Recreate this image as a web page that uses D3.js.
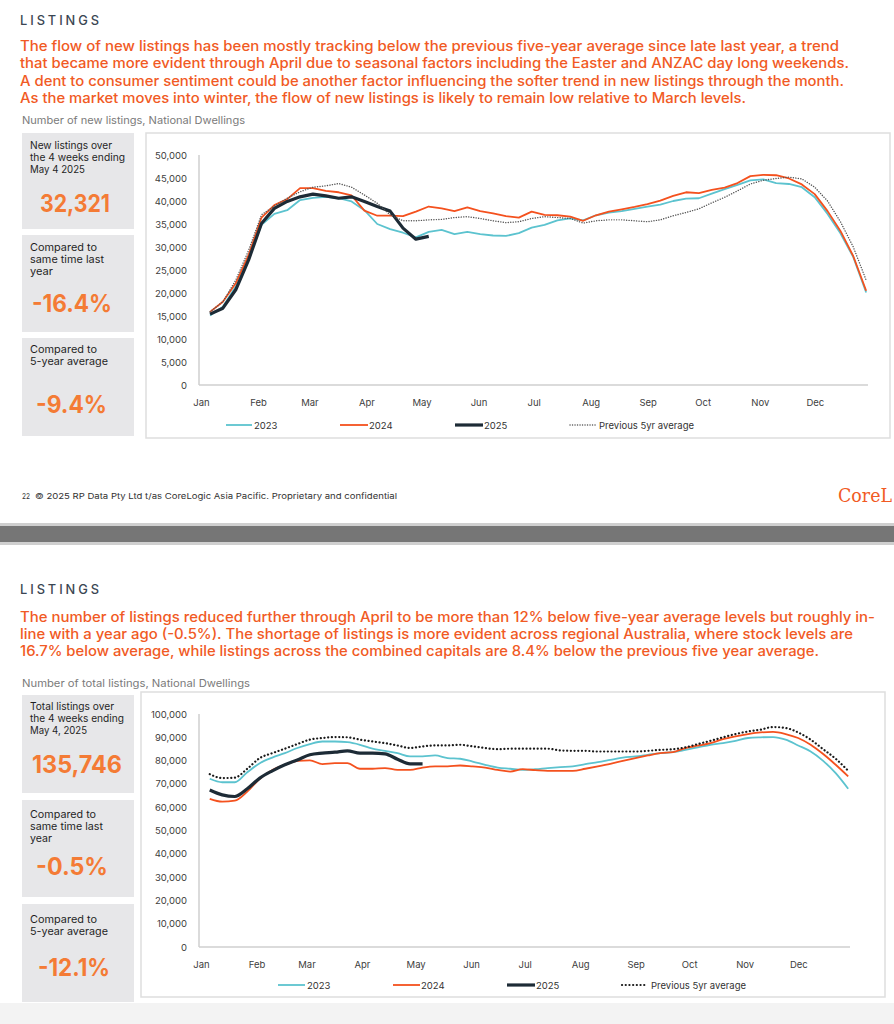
<!DOCTYPE html>
<html>
<head>
<meta charset="utf-8">
<script src="https://cdn.jsdelivr.net/npm/d3@7"></script>
<style>
  html, body { margin: 0; padding: 0; background: #fff; }
  svg { display: block; font-family: Inter, "Noto Sans", sans-serif; }
</style>
</head>
<body>
<svg id="page" width="894" height="1024"></svg>
<script>
// ---- data ----
var months = ["Jan", "Feb", "Mar", "Apr", "May", "Jun", "Jul", "Aug", "Sep", "Oct", "Nov", "Dec"];
var seriesNames = ["2023", "2024", "2025", "Previous 5yr average"];

var newTicks = [0, 5000, 10000, 15000, 20000, 25000, 30000, 35000, 40000, 45000, 50000];
var totTicks = [0, 10000, 20000, 30000, 40000, 50000, 60000, 70000, 80000, 90000, 100000];

// weekly new listings
var new2023 = [15100, 17000, 21400, 27500, 34800, 37200, 38000, 40200, 40700, 40900, 40600, 39900, 38000,
  35000, 33900, 33100, 32100, 33300, 33700, 32800, 33300, 32800, 32500, 32400, 33000, 34200, 34800,
  35800, 36200, 35800, 36900, 37500, 37800, 38300, 38800, 39200, 40000, 40500, 40600, 41600, 42600,
  43500, 44500, 44700, 43900, 43700, 43000, 40800, 37200, 33000, 27800, 20100];
var new2024 = [15900, 18100, 22100, 28300, 36400, 39100, 40400, 42800, 42800, 42200, 41900, 41200, 37900,
  36800, 36800, 36700, 37700, 38800, 38400, 37800, 38600, 37800, 37300, 36700, 36400, 37700, 37000,
  36900, 36600, 35700, 36900, 37700, 38200, 38700, 39300, 40100, 41100, 41900, 41700, 42400, 42900,
  43900, 45400, 45700, 45600, 44900, 43600, 41500, 37800, 33500, 28000, 20500];
var new2025 = [15400, 16700, 20700, 27200, 35100, 38400, 39900, 40900, 41500, 41100, 40600, 40900, 39900,
  38800, 37800, 34100, 31700, 32321];
var newAvg = [15900, 18100, 22800, 29300, 37000, 38900, 40600, 42000, 43000, 43300, 43800, 43000, 41300,
  39500, 37000, 35700, 35700, 35900, 36000, 36400, 36600, 36200, 35700, 35300, 35500, 36200, 36600,
  36400, 36200, 35200, 35700, 35900, 35900, 35700, 35500, 35900, 36800, 37500, 38300, 39600, 40800,
  42200, 43700, 44500, 44900, 45200, 44800, 43000, 40000, 35500, 30000, 22800];

// weekly total listings
var tot2023 = [72200, 70700, 70700, 75000, 78900, 81300, 83200, 85400, 87100, 88200, 88200, 87900, 86800,
  85100, 84200, 83200, 81800, 81800, 82200, 81100, 80800, 79600, 78200, 77000, 76500, 76000, 76300,
  76800, 77200, 77500, 78500, 79300, 80300, 81300, 81800, 82500, 83200, 83600, 84600, 85700, 86800,
  87500, 88500, 89700, 90000, 90100, 89000, 86500, 83900, 79900, 74600, 67900];
var tot2024 = [63600, 62400, 62800, 66700, 72200, 76000, 78200, 79900, 80100, 78500, 78900, 78900, 76500,
  76500, 76800, 76000, 76000, 77000, 77500, 77500, 77900, 77500, 77000, 76000, 75300, 76300, 75900,
  75600, 75600, 75600, 76500, 77500, 78600, 79900, 81100, 82200, 83200, 83600, 85400, 86400, 87500,
  89200, 90400, 91400, 92100, 92300, 91400, 89700, 86800, 82800, 78200, 73200];
var tot2025 = [67400, 65300, 64600, 67900, 72500, 75600, 78200, 80300, 82500, 83200, 83600, 84200, 83200,
  83200, 82900, 80600, 78600, 78600];
var totAvg = [74200, 72500, 72700, 76500, 81100, 83200, 85100, 87100, 89000, 89700, 90100, 90000, 89000,
  88200, 87500, 86500, 85400, 86100, 86500, 86500, 86800, 86100, 85400, 84900, 85100, 85100, 85100,
  85100, 84400, 84200, 84200, 83900, 83900, 83900, 83900, 84200, 84600, 84900, 85700, 87100, 88500,
  90000, 91400, 92500, 93300, 94400, 94000, 92100, 89000, 84900, 80800, 75600];

// ---- styles ----
var ORANGE = "#f15a24", NUM = "#f47b35", TEAL = "#5cc3cf", RED = "#f4511e", NAVY = "#1d2b36";

var svg = d3.select("#page");

function fit(sel, w) {
  sel.attr("textLength", w).attr("lengthAdjust", "spacingAndGlyphs");
  return sel;
}

function txt(x, y, s, size, color, w, opts) {
  opts = opts || {};
  var t = svg.append("text")
    .attr("x", x).attr("y", y)
    .attr("font-size", size)
    .attr("fill", color)
    .attr("font-weight", opts.weight || 400)
    .attr("text-anchor", opts.anchor || "start")
    .text(s);
  if (opts.family) t.style("font-family", opts.family);
  if (opts.spacing) t.attr("letter-spacing", opts.spacing);
  if (w) fit(t, w);
  return t;
}

// page bands
svg.append("rect").attr("x", 0).attr("y", 0).attr("width", 894).attr("height", 1024).attr("fill", "#fff");
svg.append("rect").attr("x", 0).attr("y", 523).attr("width", 894).attr("height", 22).attr("fill", "#cfcfcf");
svg.append("rect").attr("x", 0).attr("y", 526).attr("width", 894).attr("height", 16).attr("fill", "#767676");
svg.append("rect").attr("x", 0).attr("y", 1003).attr("width", 894).attr("height", 21).attr("fill", "#f3f3f3");

// ---- slide 1 text ----
txt(20, 25, "LISTINGS", 13, "#3b4653", 82, { weight: 500, spacing: 3 });
var para1 = [
  ["The flow of new listings has been mostly tracking below the previous five-year average since late last year, a trend", 819],
  ["that became more evident through April due to seasonal factors including the Easter and ANZAC day long weekends.", 829],
  ["A dent to consumer sentiment could be another factor influencing the softer trend in new listings through the month.", 824],
  ["As the market moves into winter, the flow of new listings is likely to remain low relative to March levels.", 726]
];
para1.forEach(function(l, i) { txt(20, 51 + i * 17.3, l[0], 14, ORANGE, l[1], { weight: 500 }); });
txt(22, 124, "Number of new listings, National Dwellings", 10.5, "#7a7a7a", 223);

txt(22, 499, "22", 8, "#333", 8);
txt(35, 499, "\u00a9 2025 RP Data Pty Ltd t/as CoreLogic Asia Pacific. Proprietary and confidential", 8, "#333", 362);
// the logo is cut by the page edge in the source, only "CoreL" shows
txt(838, 502, "CoreL", 18, ORANGE, 54, { family: "'DejaVu Serif', serif" });

// ---- slide 2 text ----
txt(20, 594, "LISTINGS", 13, "#3b4653", 82, { weight: 500, spacing: 3 });
var para2 = [
  ["The number of listings reduced further through April to be more than 12% below five-year average levels but roughly in-", 855],
  ["line with a year ago (-0.5%). The shortage of listings is more evident across regional Australia, where stock levels are", 833],
  ["16.7% below average, while listings across the combined capitals are 8.4% below the previous five year average.", 799]
];
para2.forEach(function(l, i) { txt(20, 622 + i * 17, l[0], 14, ORANGE, l[1], { weight: 500 }); });
txt(22, 687, "Number of total listings, National Dwellings", 10.5, "#7a7a7a", 228);

// ---- stat panels ----
function panel(y0, h, lines, labelY, value, valueY, valueW, cx) {
  svg.append("rect").attr("x", 22).attr("y", y0).attr("width", 112).attr("height", h).attr("fill", "#e7e7e9");
  lines.forEach(function(l, i) { txt(30, labelY + i * 12, l[0], 10.5, "#1f1f1f", l[1]); });
  txt(cx, valueY, value, 24, NUM, valueW, { weight: 700, anchor: "middle" });
}

panel(133, 96, [["New listings over", 82], ["the 4 weeks ending", 95], ["May 4 2025", 55]], 149, "32,321", 212, 70, 75);
panel(235, 97, [["Compared to", 67], ["same time last", 74], ["year", 23]], 251, "-16.4%", 312, 80, 72);
panel(338, 98, [["Compared to", 67], ["5-year average", 78]], 353, "-9.4%", 413, 71, 71.5);

panel(695, 98, [["Total listings over", 84], ["the 4 weeks ending", 94], ["May 4, 2025", 57]], 710, "135,746", 773, 90, 77);
panel(800, 97, [["Compared to", 66], ["same time last", 73], ["year", 22]], 818, "-0.5%", 875, 72, 72);
panel(904, 98, [["Compared to", 67], ["5-year average", 78]], 923, "-12.1%", 976, 72, 74);

// ---- charts ----
var yearStart = new Date(2023, 0, 1), yearEnd = new Date(2023, 11, 31);
function weekDate(i) { return d3.timeDay.offset(yearStart, 6 + i * 7); }

function drawChart(c) {
  svg.append("rect")
    .attr("x", c.frame[0]).attr("y", c.frame[1])
    .attr("width", c.frame[2] - c.frame[0]).attr("height", c.frame[3] - c.frame[1])
    .attr("fill", "#fff").attr("stroke", "#dedede").attr("stroke-width", 1.5);

  var x = d3.scaleTime().domain([yearStart, yearEnd]).range([c.left, c.right]);
  var y = d3.scaleLinear().domain([0, c.ticks[c.ticks.length - 1]]).range([c.bottom, c.top]);

  var g = svg.append("g");

  g.append("g")
    .attr("transform", "translate(" + c.left + ",0)")
    .call(d3.axisLeft(y).tickValues(c.ticks).tickFormat(d3.format(",")).tickSize(0).tickPadding(12))
    .call(function(a) { a.select(".domain").remove(); })
    .selectAll("text")
      .attr("font-size", 9.5).attr("fill", "#404040").style("font-family", "Inter, sans-serif");

  g.append("g")
    .attr("transform", "translate(0," + c.bottom + ")")
    .call(d3.axisBottom(x).ticks(d3.timeMonth.every(1))
      .tickFormat(function(d) { return months[d.getMonth()]; }).tickSize(0).tickPadding(c.xPad))
    .call(function(a) { a.select(".domain").remove(); })
    .selectAll("text")
      .attr("font-size", 9.5).attr("fill", "#404040").style("font-family", "Inter, sans-serif")
      .attr("dx", 2);

  // axis lines
  g.append("line").attr("x1", c.left).attr("x2", c.left).attr("y1", c.top).attr("y2", c.bottom)
    .attr("stroke", "#cfcfcf").attr("stroke-width", 1.5);
  g.append("line").attr("x1", c.left).attr("x2", c.right).attr("y1", c.bottom).attr("y2", c.bottom)
    .attr("stroke", "#cfcfcf").attr("stroke-width", 1.5);

  var line = d3.line()
    .x(function(d, i) { return x(weekDate(i)); })
    .y(function(d) { return y(d); })
    .curve(c.curve);

  c.series.forEach(function(s) {
    g.append("path")
      .datum(s.values)
      .attr("fill", "none")
      .attr("stroke", s.color)
      .attr("stroke-width", s.width)
      .attr("stroke-dasharray", s.dash || null)
      .attr("stroke-linecap", s.dash ? "round" : "butt")
      .attr("stroke-linejoin", "round")
      .attr("d", line);
  });

  // legend
  c.series.forEach(function(s, i) {
    var p = c.legend[i];
    g.append("line").attr("x1", p[0]).attr("x2", p[1]).attr("y1", c.legendY).attr("y2", c.legendY)
      .attr("stroke", s.color).attr("stroke-width", s.legendWidth || s.width)
      .attr("stroke-dasharray", s.dash || null)
      .attr("stroke-linecap", s.dash ? "round" : "butt");
    g.append("text").attr("x", p[2]).attr("y", c.legendY + 3.5)
      .attr("font-size", 9.5).attr("fill", "#333")
      .text(seriesNames[i]);
  });
}

drawChart({
  frame: [146, 133, 890, 438],
  left: 199, right: 868, top: 155, bottom: 385, xPad: 14,
  ticks: newTicks,
  curve: d3.curveLinear,
  series: [
    { values: new2023, color: TEAL, width: 1.8 },
    { values: new2024, color: RED, width: 1.8 },
    { values: new2025, color: NAVY, width: 3.2 },
    { values: newAvg, color: "#555", width: 1.4, dash: "0.1 2.4" }
  ],
  legendY: 425,
  legend: [[226, 252, 254], [340, 368, 369], [455, 483, 484], [570, 597, 599]]
});

drawChart({
  frame: [141, 692, 885, 997],
  left: 199, right: 850, top: 714, bottom: 947, xPad: 14,
  ticks: totTicks,
  curve: d3.curveMonotoneX,
  series: [
    { values: tot2023, color: TEAL, width: 1.8 },
    { values: tot2024, color: RED, width: 1.8 },
    { values: tot2025, color: NAVY, width: 3.2 },
    { values: totAvg, color: "#1a1a1a", width: 2.2, dash: "0.1 3.6" }
  ],
  legendY: 985,
  legend: [[278, 305, 307], [393, 420, 421], [507, 535, 536], [622, 647, 651]]
});
</script>
</body>
</html>
